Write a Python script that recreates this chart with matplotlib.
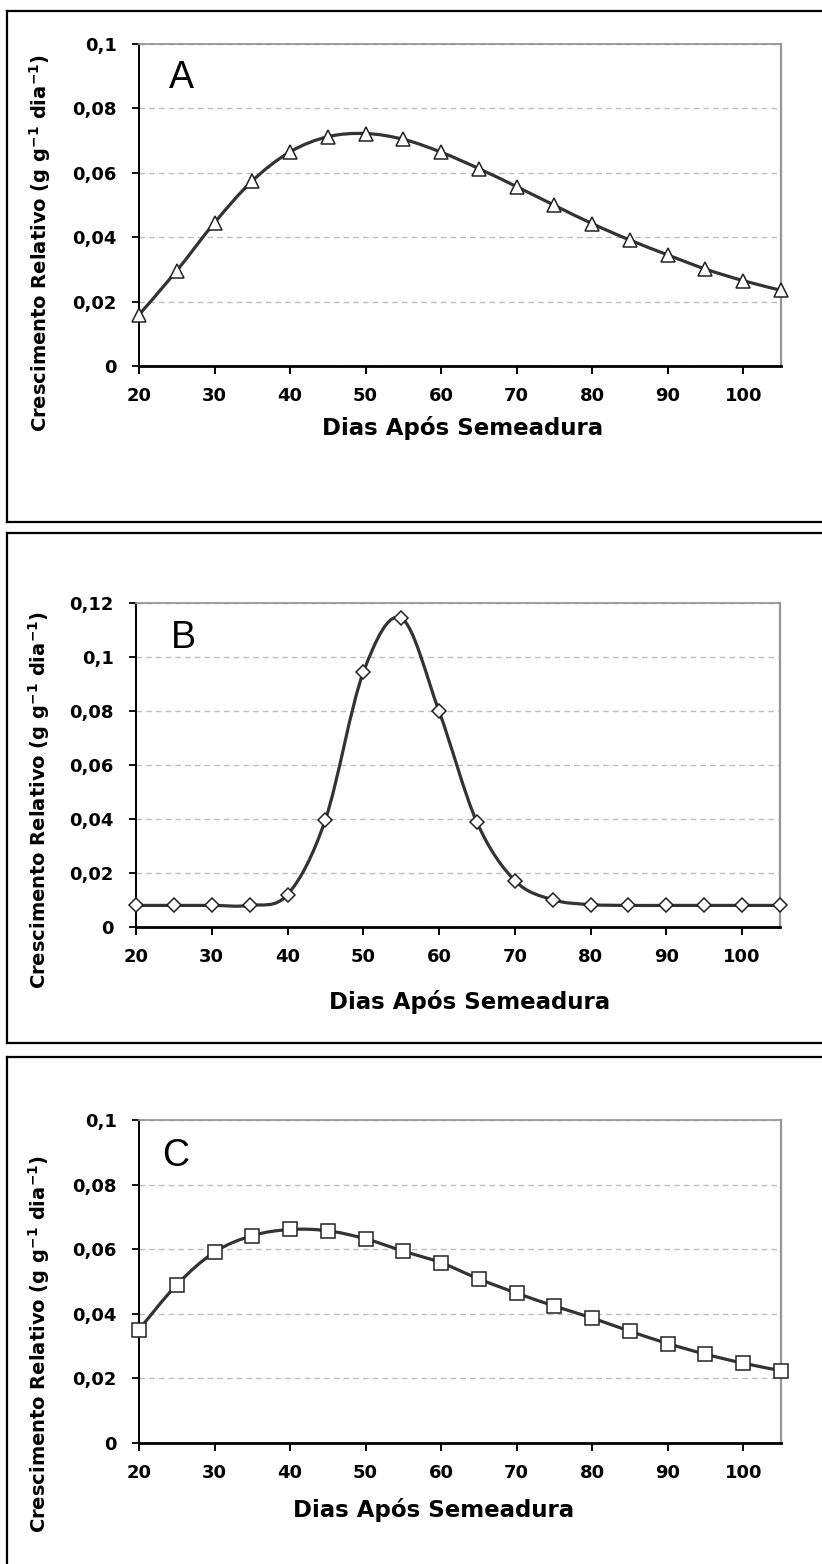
import numpy as np
import matplotlib.pyplot as plt
from matplotlib.path import Path
from matplotlib.patches import PathPatch
from matplotlib.lines import Line2D

plt.rcParams['font.family'] = ['DejaVu Sans']
plt.rcParams['mathtext.fontset'] = 'custom'
plt.rcParams['mathtext.rm'] = 'DejaVu Sans:bold'
plt.rcParams['mathtext.default'] = 'rm'

# dados
dias = [20, 25, 30, 35, 40, 45, 50, 55, 60, 65, 70, 75, 80, 85, 90, 95, 100, 105]
crescimento_a = [0.0159, 0.0296, 0.0445, 0.0575, 0.0665, 0.0712, 0.0722, 0.0704, 0.0664,
                 0.0613, 0.0557, 0.0499, 0.0442, 0.0391, 0.0345, 0.0301, 0.0265, 0.0235]
crescimento_b = [0.008, 0.008, 0.008, 0.008, 0.0120, 0.0398, 0.0943, 0.1144, 0.0799,
                 0.0388, 0.0172, 0.0101, 0.0083, 0.008, 0.008, 0.008, 0.008, 0.008]
crescimento_c = [0.0351, 0.0490, 0.0591, 0.0642, 0.0661, 0.0657, 0.0632, 0.0594, 0.0558,
                 0.0508, 0.0464, 0.0424, 0.0387, 0.0346, 0.0308, 0.0275, 0.0247, 0.0224]

x_ticks = [20, 30, 40, 50, 60, 70, 80, 90, 100]
x_tick_labels = ['20', '30', '40', '50', '60', '70', '80', '90', '100']
y_ticks_ac = [0, 0.02, 0.04, 0.06, 0.08, 0.1]
y_labels_ac = ['0', '0,02', '0,04', '0,06', '0,08', '0,1']
y_ticks_b = [0, 0.02, 0.04, 0.06, 0.08, 0.1, 0.12]
y_labels_b = ['0', '0,02', '0,04', '0,06', '0,08', '0,1', '0,12']

ylabel = 'Crescimento Relativo (g g$^{-1}$ dia$^{-1}$)'
xlabel = 'Dias Após Semeadura'

W, H = 822, 1564
fig = plt.figure(figsize=(W / 100, H / 100), dpi=100)


def fx(x):
    return x / W


def fy(y):
    return 1 - y / H


def smooth_path(x, y):
    # curva suavizada tipo Excel (bezier pelos pontos)
    pts = np.column_stack([x, y]).astype(float)
    verts = [pts[0]]
    codes = [Path.MOVETO]
    n = len(pts)
    for i in range(n - 1):
        p0 = pts[max(i - 1, 0)]
        p1 = pts[i]
        p2 = pts[i + 1]
        p3 = pts[min(i + 2, n - 1)]
        c1 = p1 + (p2 - p0) / 6
        c2 = p2 - (p3 - p1) / 6
        verts += [c1, c2, p2]
        codes += [Path.CURVE4] * 3
    return Path(verts, codes)


def panel(box, rect, y, yticks, ylabels, ymax, marker, ms, letter, letter_pos, xlab_pos, ylab_pos):
    top, bottom = box
    # moldura do painel
    for xs, ys in [([7, 830], [top, top]), ([7, 830], [bottom, bottom]), ([7, 7], [top, bottom])]:
        fig.add_artist(Line2D([fx(v) for v in xs], [fy(v) for v in ys], transform=fig.transFigure,
                              color='black', lw=1.6))

    left, atop, right, abot = rect
    ax = fig.add_axes([fx(left), fy(abot), (right - left) / W, (abot - atop) / H])
    ax.set_xlim(20, 105)
    ax.set_ylim(0, ymax)

    ax.add_patch(PathPatch(smooth_path(dias, y), facecolor='none', edgecolor='#333333', lw=2.3,
                           zorder=3, clip_on=False))
    ax.plot(dias, y, linestyle='none', marker=marker, ms=ms, mfc='white', mec='#222222', mew=1.1,
            zorder=4, clip_on=False)

    ax.set_xticks(x_ticks)
    ax.set_xticklabels(x_tick_labels, fontsize=13, fontweight='bold')
    ax.set_yticks(yticks)
    ax.set_yticklabels(ylabels, fontsize=13, fontweight='bold')
    ax.tick_params(axis='x', direction='out', length=6, width=1.4, pad=9)
    ax.tick_params(axis='y', direction='out', length=5, width=1.3, pad=11)

    ax.yaxis.grid(True, linestyle=(0, (4, 3)), color='#bdbdbd', lw=1)
    ax.set_axisbelow(True)
    ax.spines['left'].set_color('black')
    ax.spines['left'].set_linewidth(1.4)
    ax.spines['bottom'].set_color('black')
    ax.spines['bottom'].set_linewidth(2)
    ax.spines['top'].set_color('#969696')
    ax.spines['top'].set_linewidth(1.3)
    ax.spines['right'].set_color('#969696')
    ax.spines['right'].set_linewidth(1.6)

    fig.text(fx(letter_pos[0]), fy(letter_pos[1]), letter, fontsize=27, ha='center', va='center',
             family='Liberation Sans')
    fig.text(fx(xlab_pos[0]), fy(xlab_pos[1]), xlabel, fontsize=16.5, fontweight='bold',
             ha='center', va='center')
    fig.text(fx(ylab_pos[0]), fy(ylab_pos[1]), ylabel, fontsize=14, fontweight='bold',
             rotation=90, ha='center', va='center')
    return ax


panel((11, 522), (139, 44, 781, 366), crescimento_a, y_ticks_ac, y_labels_ac, 0.1, '^', 9.5,
      'A', (181, 78), (463, 428), (40, 243))
panel((533, 1043), (136, 603, 780, 927), crescimento_b, y_ticks_b, y_labels_b, 0.12, 'D', 7,
      'B', (183, 638), (470, 1002), (39, 800))
panel((1057, 1600), (139, 1120, 781, 1443), crescimento_c, y_ticks_ac, y_labels_ac, 0.1, 's', 10,
      'C', (176, 1156), (434, 1510), (39, 1344))

fig.savefig('out.png', dpi=100, facecolor='white')
